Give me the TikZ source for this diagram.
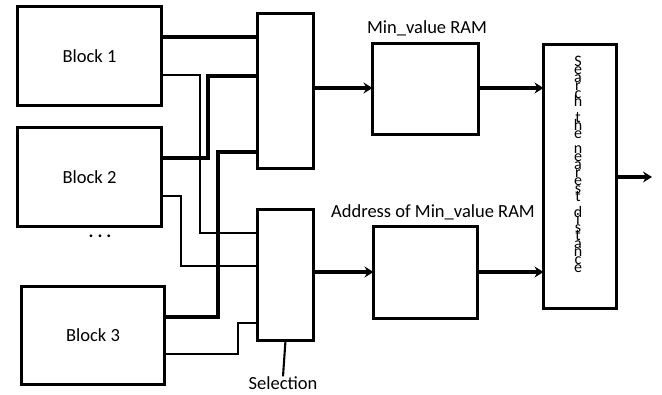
\documentclass[tikz,border=0pt]{standalone}
\usepackage{fontspec}
\setmainfont{Carlito}
\usetikzlibrary{arrows.meta}
\tikzset{
  box/.style={draw, line width=2.8pt, inner sep=0pt, outer sep=0pt, font=\fontsize{18.5}{20}\selectfont},
  thinw/.style={line width=2.1pt},
  thickw/.style={line width=3.4pt},
  arr/.style={line width=3.4pt, -{Stealth[length=9pt,width=11pt,inset=3pt]}},
  lbl/.style={inner sep=0pt, font=\fontsize{18.5}{20}\selectfont},
  vlet/.style={inner sep=0pt, anchor=base, font=\fontsize{16}{16}\selectfont}
}
\begin{document}
\begin{tikzpicture}[x=1pt,y=-1pt]
\useasboundingbox (0,0) rectangle (662,394);
% blocks
\node[box, minimum width=144pt, minimum height=99pt] (b1) at (89.5,56) {Block 1};
\node[box, minimum width=144pt, minimum height=99pt] (b2) at (89.5,177) {Block 2};
\node[box, minimum width=143pt, minimum height=98pt] (b3) at (93,335.5) {Block 3};
\node[lbl] (dots) at (100,236) {\textbf{.\hspace{4pt}.\hspace{4pt}.}};
% muxes
\node[box, minimum width=56pt, minimum height=155pt] (m1) at (285.5,91) {};
\node[box, minimum width=56pt, minimum height=131pt] (m2) at (285.5,275) {};
\node[lbl] (sel) at (283,383) {Selection};
\draw[thinw] (m2.south) -- (sel.north);
% RAMs
\node[box, minimum width=106pt, minimum height=91pt] (ram1) at (425.5,89) {};
\node[box, minimum width=104pt, minimum height=92pt] (ram2) at (425.5,272.5) {};
\node[lbl] (l1) at (427,28) {Min\_value RAM};
\node[lbl] (l2) at (433,212) {Address of Min\_value RAM};
% search
\node[box, minimum width=73pt, minimum height=264pt] (srch) at (580,176.5) {};
\coordinate (out) at (652,177);
\foreach \c [count=\i] in {S,e,a,r,c,h,{},t,h,e,{},n,e,a,r,e,s,t,{},d,i,s,t,a,n,c,e}
  \node[vlet] (v\i) at (578,{59+7.9*\i}) {\c};
% wires from blocks to muxes
\draw[thickw] (b1.east |- 0,37) -- (m1.west |- 0,37);
\draw[thinw] (b1.east |- 0,75) -| (200,233) -- (m2.west |- 0,233);
\draw[thickw] (b2.east |- 0,158) -| (208,76) -- (m1.west |- 0,76);
\draw[thinw] (b2.east |- 0,196) -| (181,266) -- (m2.west |- 0,266);
\draw[thickw] (b3.east |- 0,317) -| (218,152) -- (m1.west |- 0,152);
\draw[thinw] (b3.east |- 0,354) -| (238,323) -- (m2.west |- 0,323);
% arrows
\draw[arr] (m1.east |- 0,88) -- (ram1.west |- 0,88);
\draw[arr] (ram1.east |- 0,88) -- (srch.west |- 0,88);
\draw[arr] (m2.east |- 0,272) -- (ram2.west |- 0,272);
\draw[arr] (ram2.east |- 0,272) -- (srch.west |- 0,272);
\draw[arr] (srch.east |- 0,177) -- (out);
\end{tikzpicture}
\end{document}
